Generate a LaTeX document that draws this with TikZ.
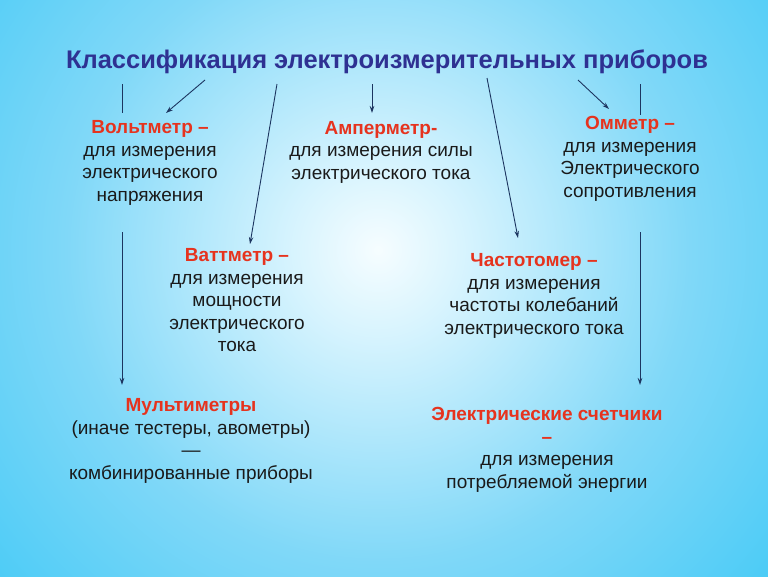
\documentclass[tikz,border=0pt]{standalone}
\usepackage{fontspec}
\setmainfont{Liberation Sans}
\usetikzlibrary{arrows.meta}
\definecolor{bgA}{HTML}{F6FDFF}
\definecolor{bgB}{HTML}{D8F4FE}
\definecolor{bgC}{HTML}{80D8F8}
\definecolor{bgD}{HTML}{28C3F5}
\definecolor{ttl}{HTML}{2E3192}
\definecolor{redt}{HTML}{E6331E}
\definecolor{bodyt}{HTML}{1A1A1A}
\definecolor{lin}{HTML}{1C3560}
\pgfdeclareradialshading{bgshade}{\pgfpoint{0bp}{0bp}}{color(0bp)=(bgA); color(4bp)=(bgB); color(15bp)=(bgC); color(31bp)=(bgD); color(50bp)=(bgD)}
\tikzset{
  body/.style={align=center, text=bodyt, font=\fontsize{19}{22.5}\selectfont, inner sep=0pt},
  conn/.style={draw=lin, line width=0.9pt},
  arr/.style={conn, -{Stealth[length=7pt,width=4.5pt]}}
}
\begin{document}
\begin{tikzpicture}[x=1pt,y=-1pt]
\useasboundingbox (0,0) rectangle (768,576);
\clip (0,0) rectangle (768,576);
\shade[shading=bgshade] (378,250) circle (520);
\node[text=ttl, font=\fontsize{25.5}{30}\selectfont\bfseries, inner sep=0pt] (title) at (387,62) {Классификация электроизмерительных приборов};

\node[body] (volt) at (150,163) {{\color{redt}\bfseries Вольтметр --}\\для измерения\\электрического\\напряжения};
\node[body] (amp) at (381,152) {{\color{redt}\bfseries Амперметр-}\\для измерения силы\\электрического тока};
\node[body] (ohm) at (630,159) {{\color{redt}\bfseries Омметр --}\\для измерения\\Электрического\\сопротивления};
\node[body] (watt) at (237,300.5) {{\color{redt}\bfseries Ваттметр --}\\для измерения\\мощности\\электрического\\тока};
\node[body] (freq) at (534,296) {{\color{redt}\bfseries Частотомер --}\\для измерения\\частоты колебаний\\электрического тока};
\node[body] (multi) at (191,441) {{\color{redt}\bfseries Мультиметры}\\(иначе тестеры, авометры)\\---\\комбинированные приборы};
\node[body] (meter) at (547,450) {{\color{redt}\bfseries Электрические счетчики}\\{\color{redt}\bfseries --}\\для измерения\\потребляемой энергии};

\coordinate (t1) at (122,84);  \coordinate (e1) at (122,113);
\coordinate (t2) at (205,80);  \coordinate (e2) at (166,113);
\coordinate (t3) at (277,84);  \coordinate (e3) at (250,244);
\coordinate (t4) at (372,84);  \coordinate (e4) at (372,113);
\coordinate (t5) at (487,78);  \coordinate (e5) at (518,238);
\coordinate (t6) at (578,80);  \coordinate (e6) at (609,109);
\coordinate (t7) at (640,84);  \coordinate (e7) at (640,115);
\coordinate (v1) at (122,232); \coordinate (w1) at (122,385);
\coordinate (v2) at (640,232); \coordinate (w2) at (640,385);

\draw[conn] (t1) -- (e1);
\draw[arr] (t2) -- (e2);
\draw[arr] (t3) -- (e3);
\draw[arr] (t4) -- (e4);
\draw[arr] (t5) -- (e5);
\draw[arr] (t6) -- (e6);
\draw[conn] (t7) -- (e7);
\draw[arr] (v1) -- (w1);
\draw[arr] (v2) -- (w2);
\end{tikzpicture}
\end{document}
